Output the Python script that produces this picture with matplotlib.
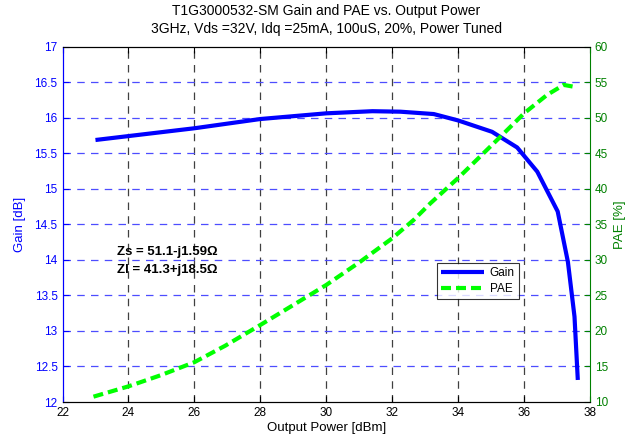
import matplotlib
matplotlib.use("Agg")
import matplotlib.pyplot as plt

plt.rcParams['font.family'] = ['Liberation Sans', 'DejaVu Sans']

title_lines = ["T1G3000532-SM Gain and PAE vs. Output Power",
               "3GHz, Vds =32V, Idq =25mA, 100uS, 20%, Power Tuned"]

gain_pout = [23.0, 24.0, 26.0, 28.0, 30.0, 31.4, 32.25, 33.26, 34.0, 35.03, 35.79, 36.4, 37.02, 37.33, 37.53, 37.63]
gain_db   = [15.685, 15.74, 15.85, 15.98, 16.06, 16.09, 16.083, 16.05, 15.96, 15.80, 15.58, 15.24, 14.68, 13.97, 13.20, 12.31]

pae_pout = [22.94, 24.0, 25.0, 26.0, 26.93, 28.0, 29.0, 30.0, 31.03, 32.0, 32.65, 33.16, 34.0, 35.28, 36.0, 36.7, 37.2, 37.56]
pae_pct  = [10.75, 12.2, 13.8, 15.6, 17.9, 20.83, 23.64, 26.46, 29.73, 33.02, 35.6, 37.95, 41.5, 47.3, 50.6, 53.2, 54.6, 54.3]

x_ticks = [22, 24, 26, 28, 30, 32, 34, 36, 38]
gain_ticks = [12, 12.5, 13, 13.5, 14, 14.5, 15, 15.5, 16, 16.5, 17]
pae_ticks = [10, 15, 20, 25, 30, 35, 40, 45, 50, 55, 60]

W, H = 638, 442
fig = plt.figure(figsize=(W/100, H/100), dpi=100)
L, R, T, B = 62.5, 590, 46.5, 402
ax = fig.add_axes([L/W, 1 - B/H, (R-L)/W, (B-T)/H])
ax2 = ax.twinx()

blue = (0, 0, 1)
green_txt = (0, 0.5, 0)

ax.set_xlim(22, 38)
ax.set_ylim(12, 17)
ax2.set_ylim(10, 60)
ax.set_xticks(x_ticks)
ax.set_yticks(gain_ticks)
ax.set_yticklabels([f"{v:g}" for v in gain_ticks])
ax2.set_yticks(pae_ticks)

# grids
for xv in x_ticks[1:-1]:
    ax.axvline(xv, color=(0.25, 0.25, 0.25), lw=0.9, ls=(0, (6, 5)), zorder=0.5)
for yv in gain_ticks[1:-1]:
    ax.axhline(yv, color=(0.3, 0.3, 1.0), lw=0.9, ls=(0, (6, 5)), zorder=0.5)

lg, = ax.plot(gain_pout, gain_db, color=blue, lw=3.0, solid_capstyle='butt', zorder=3, label='Gain')
lp, = ax2.plot(pae_pout, pae_pct, color=(0, 1, 0), lw=3.0, ls=(0, (2.4, 1.2)), zorder=3, label='PAE')

ax.text(23.65, 14.11, "Zs = 51.1-j1.59Ω", fontsize=9.5, fontweight='bold', va='center')
ax.text(23.65, 13.85, "Zl = 41.3+j18.5Ω", fontsize=9.5, fontweight='bold', va='center')

ax.tick_params(axis='x', direction='in', top=True, labelsize=8.5, length=4, colors='black')
ax.tick_params(axis='y', direction='in', labelsize=8.5, length=4, colors=blue)
ax2.tick_params(axis='y', direction='in', labelsize=8.5, length=4, colors=green_txt)

ax.spines['left'].set_color(blue)
ax2.spines['left'].set_color(blue)
ax2.spines['right'].set_color(green_txt)
ax.spines['right'].set_visible(False)
for s in ['top', 'bottom']:
    ax.spines[s].set_color('black')
    ax2.spines[s].set_color('black')

ax.set_xlabel("Output Power [dBm]", fontsize=9.5, labelpad=2)
ax.set_ylabel("Gain [dB]", fontsize=9.5, color=blue, labelpad=6)
ax2.set_ylabel("PAE [%]", fontsize=9.5, color=green_txt, labelpad=4)

fig.text((L+R)/2/W, 1 - 11/H, title_lines[0], ha='center', va='center', fontsize=10)
fig.text((L+R)/2/W, 1 - 29/H, title_lines[1], ha='center', va='center', fontsize=10)

leg = ax2.legend([lg, lp], ['Gain', 'PAE'], loc='upper left',
                 bbox_to_anchor=((437 - L)/(R-L), 1 - (263 - T)/(B-T)),
                 fontsize=8.5, frameon=True, fancybox=False, edgecolor='black',
                 handlelength=3.6, borderpad=0.35, labelspacing=0.35, handletextpad=0.5,
                 borderaxespad=0)
leg.get_frame().set_linewidth(0.8)

fig.savefig("out.png", dpi=100)
